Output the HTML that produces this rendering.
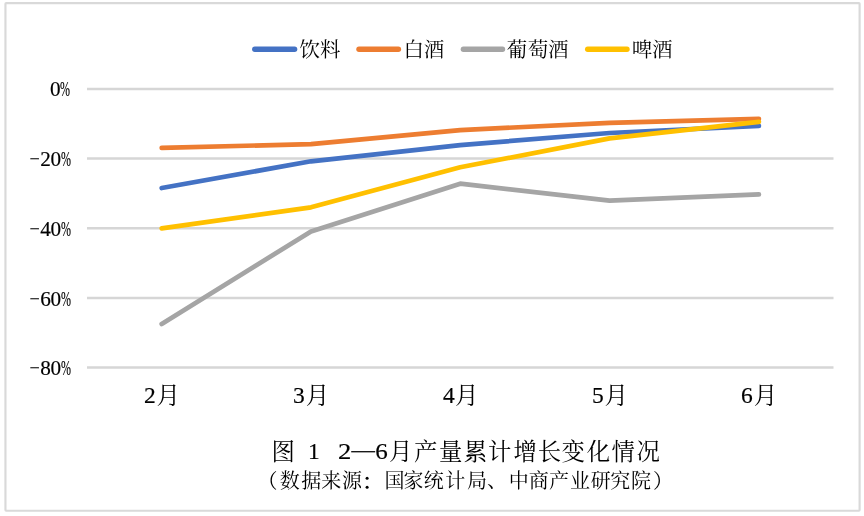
<!DOCTYPE html>
<html lang="zh"><head><meta charset="utf-8"><title>图 1 2—6月产量累计增长变化情况</title>
<style>
html,body{margin:0;padding:0;background:#fff}
body{width:864px;height:516px;position:relative;overflow:hidden;font-family:"Liberation Serif",serif;color:#000}
svg{position:absolute;left:0;top:0}
defs path{vector-effect:non-scaling-stroke}
svg text{font-family:"Liberation Serif","Noto Serif CJK SC",serif;fill:#000}
.yl,.xl,.tt{position:absolute;will-change:transform;line-height:1;white-space:nowrap;height:1em;-webkit-text-stroke:0.18px #000;filter:blur(0.35px)}
.yl{letter-spacing:-0.25px}
.pc{display:inline-block;transform:scaleX(.565);transform-origin:0 50%;width:.5em}
.mn{display:inline-block;transform:scaleX(.86);transform-origin:100% 50%;width:.48em;text-align:right;position:relative;left:-2.2px}
</style></head><body>
<svg width="864" height="516" viewBox="0 0 864 516"><defs><filter id="b" x="-5%" y="-20%" width="110%" height="140%"><feGaussianBlur stdDeviation="0.4"/></filter></defs>
<rect x="5.45" y="3.1" width="854.15" height="507.65" rx="0.7" fill="#fff" stroke="#d9d9d9" stroke-width="2.15"/>
<line x1="87.0" y1="88.90" x2="833.5" y2="88.90" stroke="#d6d6d6" stroke-width="2.5"/>
<line x1="87.0" y1="158.60" x2="833.5" y2="158.60" stroke="#d6d6d6" stroke-width="2.5"/>
<line x1="87.0" y1="228.30" x2="833.5" y2="228.30" stroke="#d6d6d6" stroke-width="2.5"/>
<line x1="87.0" y1="298.05" x2="833.5" y2="298.05" stroke="#d6d6d6" stroke-width="2.5"/>
<line x1="87.0" y1="367.55" x2="833.5" y2="367.55" stroke="#d6d6d6" stroke-width="2.5"/>
<polyline points="161.7,188.0 311.0,161.3 460.2,145.1 609.6,133.0 758.9,125.8" fill="none" stroke="#4472C4" stroke-width="4.7" stroke-linecap="round" stroke-linejoin="round"/>
<polyline points="161.7,147.9 311.0,144.1 460.2,130.1 609.6,122.8 758.9,118.9" fill="none" stroke="#ED7D31" stroke-width="4.7" stroke-linecap="round" stroke-linejoin="round"/>
<polyline points="161.7,324.0 311.0,231.4 460.2,183.7 609.6,200.6 758.9,194.3" fill="none" stroke="#A5A5A5" stroke-width="4.7" stroke-linecap="round" stroke-linejoin="round"/>
<polyline points="161.7,228.3 311.0,207.3 460.2,167.3 609.6,138.4 758.9,121.8" fill="none" stroke="#FFC000" stroke-width="4.7" stroke-linecap="round" stroke-linejoin="round"/>
<line x1="254.8" y1="49.25" x2="294.6" y2="49.25" stroke="#4472C4" stroke-width="5.4" stroke-linecap="round"/>
<g filter="url(#b)"><text x="299.6 319.9" y="56.7" font-size="20.5">饮料</text></g>
<line x1="359.0" y1="49.25" x2="398.4" y2="49.25" stroke="#ED7D31" stroke-width="5.4" stroke-linecap="round"/>
<g filter="url(#b)"><text x="403.5 423.8" y="56.7" font-size="20.5">白酒</text></g>
<line x1="463.4" y1="49.25" x2="502.5" y2="49.25" stroke="#A5A5A5" stroke-width="5.4" stroke-linecap="round"/>
<g filter="url(#b)"><text x="506.8 527.7 548.1" y="56.7" font-size="20.5">葡萄酒</text></g>
<line x1="587.7" y1="49.25" x2="627.0" y2="49.25" stroke="#FFC000" stroke-width="5.4" stroke-linecap="round"/>
<g filter="url(#b)"><text x="631.8 652.1" y="56.7" font-size="20.5">啤酒</text></g>
<g filter="url(#b)"><text x="156.5" y="403.8" font-size="23.5">月</text></g>
<g filter="url(#b)"><text x="305.8" y="403.8" font-size="23.5">月</text></g>
<g filter="url(#b)"><text x="455.1" y="403.8" font-size="23.5">月</text></g>
<g filter="url(#b)"><text x="604.4" y="403.8" font-size="23.5">月</text></g>
<g filter="url(#b)"><text x="753.7" y="403.8" font-size="23.5">月</text></g>
<g filter="url(#b)"><text x="271.5" y="459.6" font-size="23.4">图</text><text x="389.1 413.9 438.9 463.8 487.9 513.4 537.7 561.6 586.7 611.4 636.6" y="460" font-size="23.4">月产量累计增长变化情况</text></g>
<rect x="351.2" y="451.1" width="24.0" height="1.25" fill="#000"/>
<g filter="url(#b)"><text x="257.5" y="488.3" font-size="20">（</text><text x="279.7 301.2 321.3 341.9" y="488.3" font-size="20">数据来源</text><text x="384.6 403.4 423.8 445.2 467.1" y="488.3" font-size="20">国家统计局</text><text x="508.8 528.8 549.1 569.9 590.8 610.3 631.0" y="488.3" font-size="20">中商产业研究院</text><text x="653" y="488.3" font-size="20">）</text></g>
<g fill="#000" filter="url(#b)"><circle cx="367.1" cy="478.3" r="1.5"/><circle cx="367.1" cy="487.3" r="1.5"/></g>
<g fill="#000" filter="url(#b)"><text x="487" y="488.3" font-size="20">、</text></g>
</svg>
<div class="yl" style="right:792.8px;top:79.35px;font-size:21.2px">0<span class="pc">%</span></div>
<div class="yl" style="right:792.8px;top:149.04px;font-size:21.2px"><span class="mn">−</span>20<span class="pc">%</span></div>
<div class="yl" style="right:792.8px;top:218.75px;font-size:21.2px"><span class="mn">−</span>40<span class="pc">%</span></div>
<div class="yl" style="right:792.8px;top:288.50px;font-size:21.2px"><span class="mn">−</span>60<span class="pc">%</span></div>
<div class="yl" style="right:792.8px;top:358.00px;font-size:21.2px"><span class="mn">−</span>80<span class="pc">%</span></div>
<div class="xl" style="left:144.0px;top:383.92px;font-size:23.5px">2</div>
<div class="xl" style="left:293.3px;top:383.92px;font-size:23.5px">3</div>
<div class="xl" style="left:442.6px;top:383.92px;font-size:23.5px">4</div>
<div class="xl" style="left:591.9px;top:383.92px;font-size:23.5px">5</div>
<div class="xl" style="left:741.1px;top:383.92px;font-size:23.5px">6</div>
<div class="tt" style="left:308.0px;top:440.00px;font-size:23.4px;transform:scaleX(1);transform-origin:0 50%">1</div>
<div class="tt" style="left:338.0px;top:440.00px;font-size:23.4px;transform:scaleX(1.14);transform-origin:0 50%">2</div>
<div class="tt" style="left:375.6px;top:440.00px;font-size:23.4px;transform:scaleX(1.07);transform-origin:100% 50%">6</div>
</body></html>
